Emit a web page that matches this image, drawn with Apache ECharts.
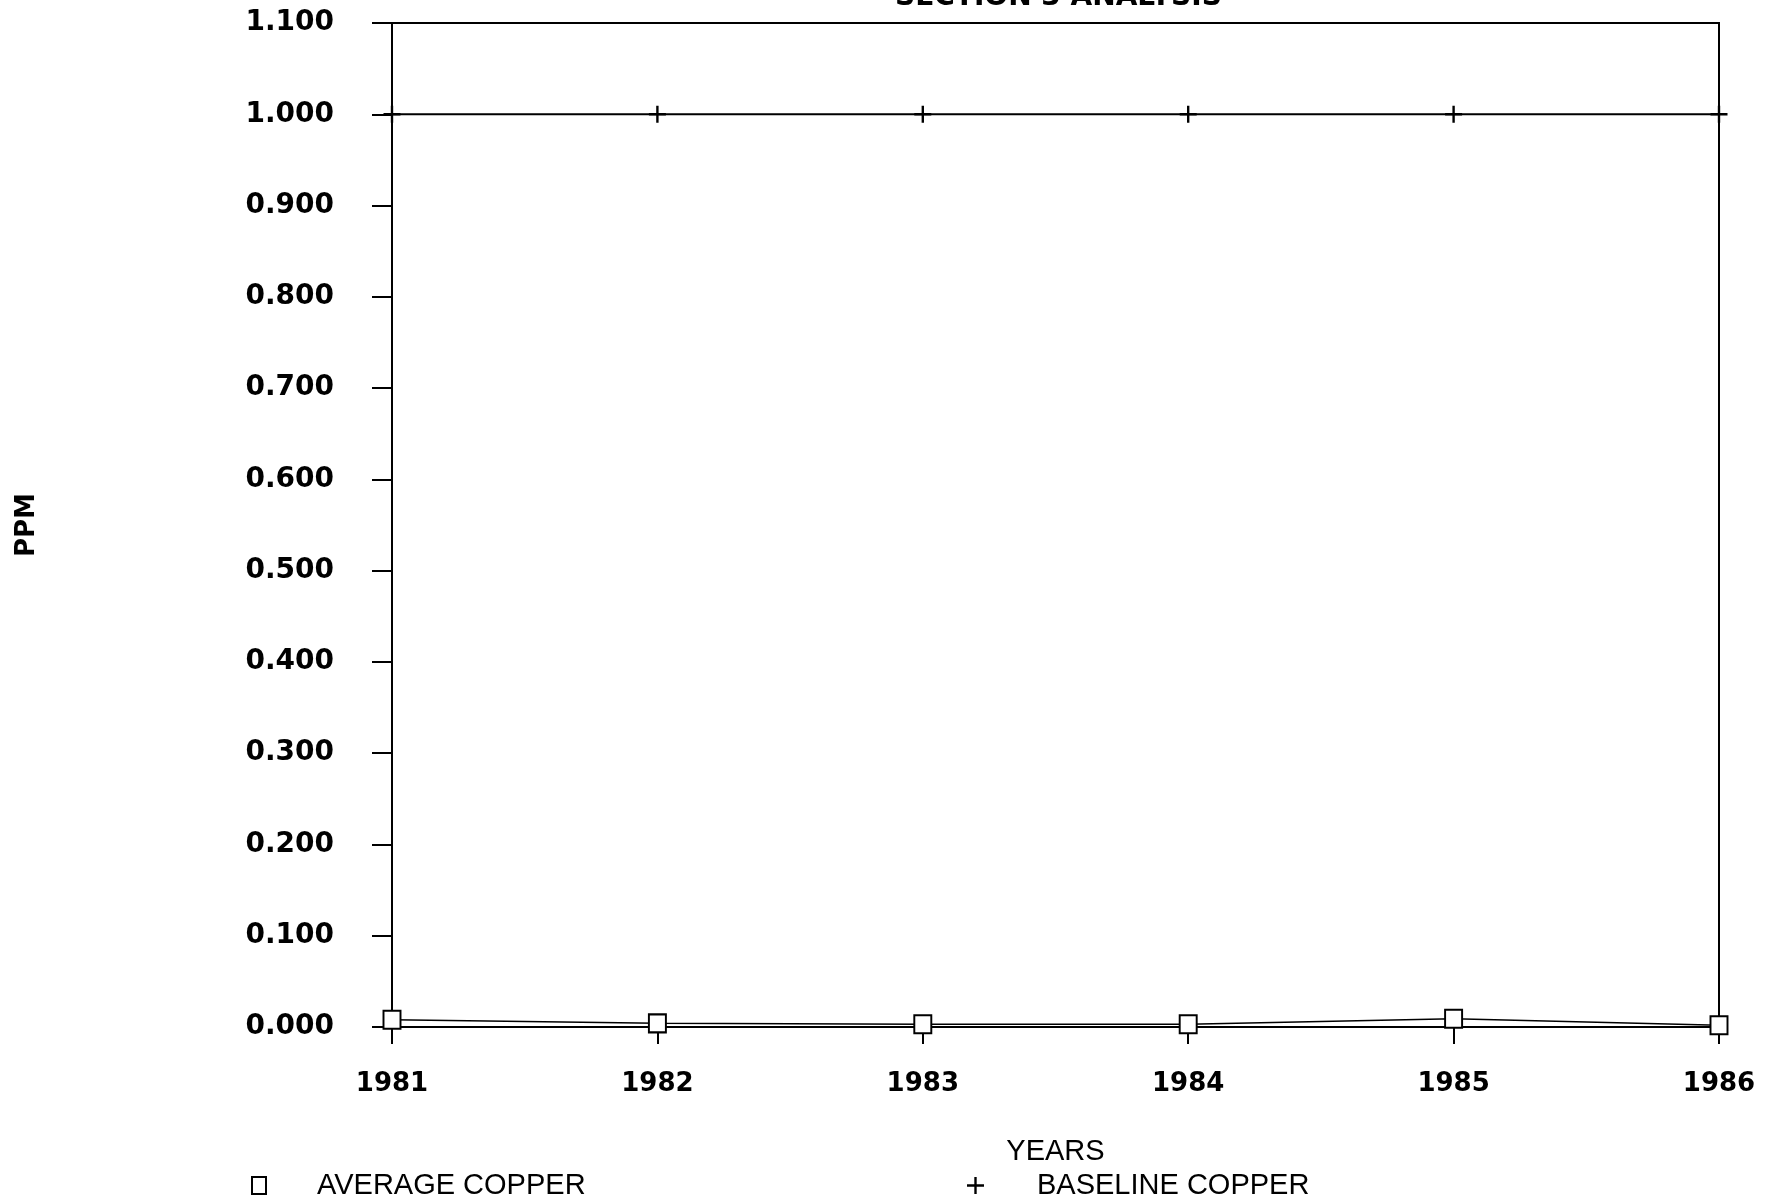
<!DOCTYPE html>
<html>
<head>
<meta charset="utf-8">
<script src="https://cdn.jsdelivr.net/npm/echarts@6/dist/echarts.min.js"></script>
<style>
  html, body { margin: 0; padding: 0; background: #fff; }
  #chart { width: 1775px; height: 1202px; }
</style>
</head>
<body>
<div id="chart"></div>
<script>
// data
var years = [1981, 1982, 1983, 1984, 1985, 1986];
var averageCopper = [0.008, 0.004, 0.003, 0.003, 0.009, 0.002];
var baselineCopper = [1.000, 1.000, 1.000, 1.000, 1.000, 1.000];
var yMin = 0, yMax = 1.1, yStep = 0.1;

var plusPath = 'path://M4.3,0H5.7V4.3H10V5.7H5.7V10H4.3V5.7H0V4.3H4.3Z';
var boldFont = 'DejaVu Sans';
var plainFont = 'Liberation Sans';

function pairs(vals) {
    return years.map(function (y, i) { return [y, vals[i]]; });
}

var mychart = echarts.init(document.getElementById('chart'));
mychart.setOption({
    animation: false,
    backgroundColor: '#fff',
    title: {
        text: 'SECTION 3 ANALYSIS',
        left: 890,
        top: -21,
        textStyle: {
            fontFamily: boldFont,
            fontWeight: 'bold',
            fontSize: 28,
            color: '#000'
        }
    },
    grid: {
        left: 392,
        right: 56,
        top: 23,
        bottom: 175,
        outerBoundsMode: 'none',
        containLabel: false,
        show: true,
        borderColor: '#000',
        borderWidth: 2,
        backgroundColor: 'transparent'
    },
    legend: [
        {
            left: 246,
            top: 1166,
            itemWidth: 14,
            itemHeight: 17,
            data: [{name: 'AVERAGE COPPER', icon: 'rect'}],
            itemStyle: {color: '#fff', borderColor: '#000', borderWidth: 2},
            textStyle: {
                fontFamily: plainFont,
                fontSize: 29,
                color: '#000',
                padding: [0, 0, 0, 46]
            }
        },
        {
            left: 962,
            top: 1166,
            itemWidth: 17,
            itemHeight: 17,
            data: [{name: 'BASELINE COPPER', icon: plusPath}],
            itemStyle: {color: '#000', borderWidth: 0},
            textStyle: {
                fontFamily: plainFont,
                fontSize: 29,
                color: '#000',
                padding: [0, 0, 0, 48]
            }
        }
    ],
    xAxis: {
        type: 'value',
        min: 1981,
        max: 1986,
        interval: 1,
        name: 'YEARS',
        nameLocation: 'middle',
        nameGap: 110,
        nameTextStyle: {
            fontFamily: plainFont,
            fontSize: 29,
            color: '#000'
        },
        axisLine: {lineStyle: {color: '#000', width: 2}},
        axisTick: {length: 17, lineStyle: {color: '#000', width: 2}},
        splitLine: {show: false},
        axisLabel: {
            margin: 44,
            fontFamily: boldFont,
            fontWeight: 'bold',
            fontSize: 26,
            color: '#000',
            formatter: function (v) { return String(v); }
        }
    },
    yAxis: {
        type: 'value',
        min: yMin,
        max: yMax,
        interval: yStep,
        name: 'PPM',
        nameLocation: 'middle',
        nameRotate: 90,
        nameGap: 352,
        nameTextStyle: {
            fontFamily: boldFont,
            fontWeight: 'bold',
            fontSize: 26,
            color: '#000'
        },
        axisLine: {lineStyle: {color: '#000', width: 2}},
        axisTick: {length: 20, lineStyle: {color: '#000', width: 2}},
        splitLine: {show: false},
        axisLabel: {
            margin: 58,
            fontFamily: boldFont,
            fontWeight: 'bold',
            fontSize: 28,
            color: '#000',
            formatter: function (v) { return v.toFixed(3); }
        }
    },
    series: [
        {
            name: 'AVERAGE COPPER',
            type: 'line',
            data: pairs(averageCopper),
            symbol: 'rect',
            symbolSize: [17, 18],
            itemStyle: {color: '#fff', borderColor: '#000', borderWidth: 2},
            lineStyle: {color: '#000', width: 1.5},
            z: 3
        },
        {
            name: 'BASELINE COPPER',
            type: 'line',
            data: pairs(baselineCopper),
            symbol: plusPath,
            symbolSize: 17,
            itemStyle: {color: '#000', borderWidth: 0},
            lineStyle: {color: '#000', width: 2},
            z: 2
        }
    ]
});
</script>
</body>
</html>
